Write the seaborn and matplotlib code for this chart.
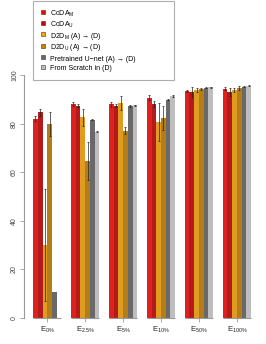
import numpy as np
import pandas as pd
import matplotlib
matplotlib.use("Agg")
import matplotlib.pyplot as plt
from matplotlib.lines import Line2D
import seaborn as sns

# data
groups = ["0%", "2.5%", "5%", "10%", "50%", "100%"]
methods = ["CoDA_M", "CoDA_U", "D2D_M", "D2D_U", "Pretrained", "Scratch"]
legend_labels = [r"CoDA$_\mathregular{M}$", r"CoDA$_\mathregular{U}$",
                 r"D2D$_\mathregular{M}$ (A) → (D)", r"D2D$_\mathregular{U}$ (A) → (D)",
                 "Pretrained U−net (A) → (D)", "From Scratch in (D)"]
colors = ["#FF0000", "#CD0000", "#FFA500", "#CD8500", "#696969", "#BEBEBE"]

coda_m = [82.2, 88.2, 88.1, 90.8, 93.6, 94.6]
coda_u = [84.8, 87.5, 87.6, 88.1, 93.2, 93.2]
d2d_m = [30.1, 82.8, 88.7, 80.8, 94.0, 94.0]
d2d_u = [79.9, 64.7, 77.2, 82.6, 94.4, 94.7]
pretrained = [10.6, 81.8, 87.4, 90.0, 95.0, 95.4]
scratch = [0.0, 76.8, 87.7, 91.5, 95.1, 95.8]

err_coda_m = [1.0, 0.7, 1.0, 1.0, 0.5, 0.7]
err_coda_u = [1.5, 0.7, 0.7, 1.2, 2.0, 1.5]
err_d2d_m = [23.0, 3.5, 3.0, 8.0, 0.7, 1.0]
err_d2d_u = [5.0, 8.0, 1.5, 5.0, 0.5, 0.8]
err_pretrained = [0.0, 0.3, 0.3, 0.3, 0.3, 0.3]
err_scratch = [0.0, 0.3, 0.3, 0.3, 0.3, 0.3]

values = [coda_m, coda_u, d2d_m, d2d_u, pretrained, scratch]
errors = [err_coda_m, err_coda_u, err_d2d_m, err_d2d_u, err_pretrained, err_scratch]

df = pd.DataFrame({
    "group": np.tile(groups, len(methods)),
    "method": np.repeat(methods, len(groups)),
    "value": np.concatenate(values),
})

plt.rcParams['font.family'] = ['Liberation Sans', 'DejaVu Sans']
plt.rcParams['mathtext.fontset'] = 'custom'
plt.rcParams['mathtext.rm'] = 'Liberation Sans'

fig = plt.figure(figsize=(2.66, 3.44), dpi=100)
ax = fig.add_axes([24.3 / 266, 26 / 344, 235.5 / 266, 317 / 344])

sns.barplot(data=df, x="group", y="value", hue="method", order=groups,
            hue_order=methods, palette=colors, width=0.75, linewidth=0,
            ax=ax, legend=False)

# error bars on top of each bar
for cont, errs in zip(ax.containers, errors):
    for bar, e in zip(cont, errs):
        if e > 0:
            ax.errorbar(bar.get_x() + bar.get_width() / 2, bar.get_height(), yerr=e,
                        fmt="none", ecolor="#222222", elinewidth=0.5,
                        capsize=1.0, capthick=0.5)

ax.set_xlim(-0.605, 5.605)
ax.set_ylim(0, 130.7)
for s in ["top", "right", "bottom"]:
    ax.spines[s].set_visible(False)
ax.spines["left"].set_bounds(0, 100)
ax.spines["left"].set_color("#9a9a9a")
ax.spines["left"].set_linewidth(0.8)
ax.set_yticks([0, 20, 40, 60, 80, 100])
ax.tick_params(axis="y", length=3, width=0.6, color="#9a9a9a", labelsize=5,
               labelcolor="#444444", pad=1.5)
for lab in ax.get_yticklabels():
    lab.set_rotation(90)
    lab.set_va("center")

# per-group underline with tick at centre
for i in range(len(groups)):
    ax.plot([i - 0.375, i + 0.375], [0, 0], color="#9a9a9a", lw=0.8,
            clip_on=False, solid_capstyle="butt")
ax.set_xticks(range(len(groups)))
ax.set_xticklabels([r"E$_\mathregular{%s}$" % g.replace("%", r"\%") for g in groups])
ax.tick_params(axis="x", length=3, width=0.6, color="#9a9a9a", labelsize=5.5,
               labelcolor="#222222", pad=2)
ax.set_xlabel("")
ax.set_ylabel("")

# square markers so every legend row gets the same height
handles = [Line2D([], [], linestyle="none", marker="s", markersize=3.2,
                  markerfacecolor=c, markeredgecolor="#333333", markeredgewidth=0.4)
           for c in colors]
leg = fig.legend(handles, legend_labels, loc="upper left", mode="expand",
                 bbox_to_anchor=(33 / 266, 0, 141 / 266, 1 - 1 / 344),
                 frameon=True, fancybox=False, edgecolor="#9a9a9a", fontsize=5,
                 handlelength=0.6, handleheight=1.55, labelspacing=0.1,
                 handletextpad=0.8, borderpad=1.12, borderaxespad=0)
leg.get_frame().set_linewidth(0.8)

fig.savefig("out.png", dpi=100)
